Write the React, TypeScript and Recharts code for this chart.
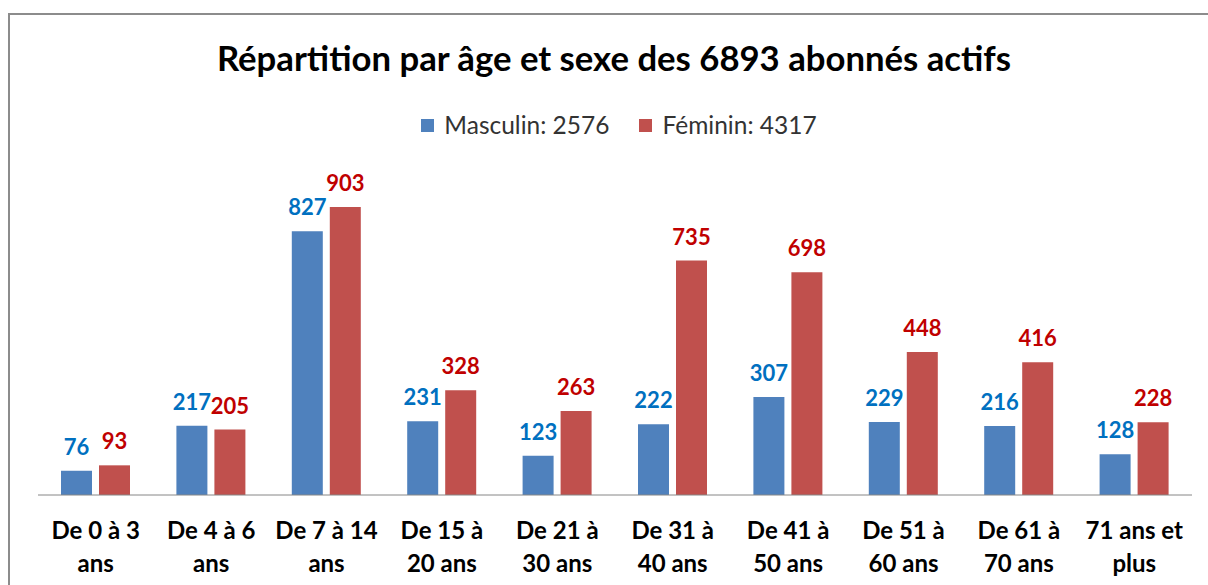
import { BarChart, Bar, XAxis, YAxis, LabelList } from 'recharts';

const categories = [
  'De 0 à 3\nans',
  'De 4 à 6\nans',
  'De 7 à 14\nans',
  'De 15 à\n20 ans',
  'De 21 à\n30 ans',
  'De 31 à\n40 ans',
  'De 41 à\n50 ans',
  'De 51 à\n60 ans',
  'De 61 à\n70 ans',
  '71 ans et\nplus',
];
const masculin = [76, 217, 827, 231, 123, 222, 307, 229, 216, 128];
const feminin = [93, 205, 903, 328, 263, 735, 698, 448, 416, 228];
const totalMasculin = 2576;
const totalFeminin = 4317;
const totalAbonnes = 6893;

const data = categories.map((cat, i) => ({
  cat,
  masculin: masculin[i],
  feminin: feminin[i],
}));

const FONT = 'Lato, "Open Sans", sans-serif';
const BLUE = '#4F81BD';
const RED = '#C0504D';

function CategoryTick({ x, y, payload }: any) {
  const lines = String(payload.value).split('\n');
  return (
    <g transform={`translate(${x},${y})`}>
      <text
        textAnchor="middle"
        fontFamily={FONT}
        fontSize={24}
        fontWeight="bold"
        fill="#000"
      >
        {lines.map((l, i) => (
          <tspan key={i} x={0} y={44 + i * 33}>
            {l}
          </tspan>
        ))}
      </text>
    </g>
  );
}

export default function App() {
  return (
    <div
      style={{
        position: 'fixed',
        left: 8,
        top: 13,
        boxSizing: 'border-box',
        width: 1200,
        height: 572,
        borderLeft: '2px solid #8c8c8c',
        borderTop: '2px solid #8c8c8c',
        background: '#fff',
        fontFamily: FONT,
      }}
    >
      <div
        style={{
          position: 'absolute',
          top: 24,
          left: 0,
          width: '100%',
          boxSizing: 'border-box',
          paddingLeft: 10,
          textAlign: 'center',
          fontSize: 34.7,
          lineHeight: '38px',
          fontWeight: 'bold',
          color: '#000',
        }}
      >
        Répartition par âge et sexe des {totalAbonnes} abonnés actifs
      </div>
      <div
        style={{
          position: 'absolute',
          top: 95,
          left: 0,
          width: '100%',
          boxSizing: 'border-box',
          paddingLeft: 20,
          display: 'flex',
          justifyContent: 'center',
          alignItems: 'center',
          fontSize: 24.5,
          lineHeight: '30px',
          color: '#333',
        }}
      >
        <span style={{ width: 13, height: 13, background: BLUE, marginRight: 10 }} />
        <span style={{ marginRight: 30 }}>Masculin: {totalMasculin}</span>
        <span style={{ width: 13, height: 13, background: RED, marginRight: 10 }} />
        <span>Féminin: {totalFeminin}</span>
      </div>
      <BarChart
        width={1198}
        height={570}
        data={data}
        margin={{ top: 161, right: 16, bottom: 0, left: 28 }}
        barSize={31}
        barGap={7}
      >
        <XAxis
          dataKey="cat"
          height={90}
          stroke="#868686"
          tickLine={false}
          tickSize={0}
          tickMargin={0}
          interval={0}
          tick={<CategoryTick />}
        />
        <YAxis hide domain={[0, 1000]} />
        <Bar dataKey="masculin" fill={BLUE} isAnimationActive={false}>
          <LabelList
            dataKey="masculin"
            position="top"
            offset={16}
            fill="#0070C0"
            fontFamily={FONT}
            fontSize={22}
            fontWeight="bold"
          />
        </Bar>
        <Bar dataKey="feminin" fill={RED} isAnimationActive={false}>
          <LabelList
            dataKey="feminin"
            position="top"
            offset={16}
            fill="#C00000"
            fontFamily={FONT}
            fontSize={22}
            fontWeight="bold"
          />
        </Bar>
      </BarChart>
    </div>
  );
}
